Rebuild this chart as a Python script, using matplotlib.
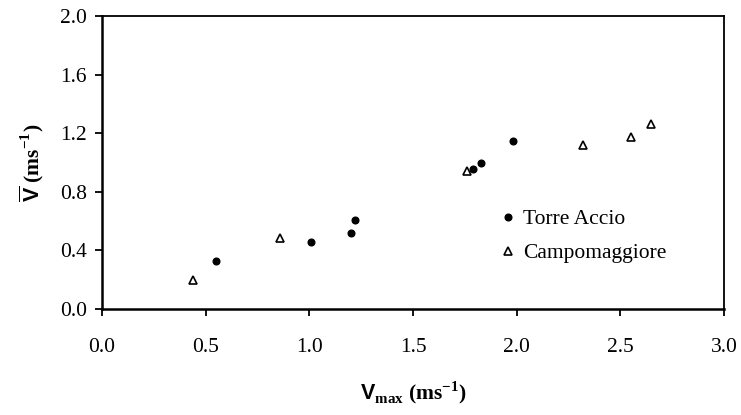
import numpy as np
import matplotlib
matplotlib.use("Agg")
import matplotlib.pyplot as plt

plt.rcParams['font.family'] = ['Liberation Serif', 'DejaVu Serif']
plt.rcParams['mathtext.fontset'] = 'custom'
plt.rcParams['mathtext.rm'] = 'Liberation Serif:bold'
plt.rcParams['mathtext.bf'] = 'Liberation Serif:bold'
plt.rcParams['mathtext.sf'] = 'Liberation Sans:bold'

# Torre Accio (filled dots)
torre_vmax = [0.55, 1.01, 1.20, 1.22, 1.79, 1.83, 1.98]
torre_vmean = [0.33, 0.455, 0.52, 0.605, 0.955, 1.00, 1.145]

# Campomaggiore (open triangles)
campo_vmax = [0.44, 0.86, 1.76, 2.32, 2.55, 2.65]
campo_vmean = [0.20, 0.485, 0.94, 1.12, 1.175, 1.26]

x_ticks = [0.0, 0.5, 1.0, 1.5, 2.0, 2.5, 3.0]
y_ticks = [0.0, 0.4, 0.8, 1.2, 1.6, 2.0]

fig = plt.figure(figsize=(7.41, 4.15), dpi=100)
ax = fig.add_axes([0.1377, 0.2554, 0.977 - 0.1377, 0.9614 - 0.2554])

ax.plot(torre_vmax, torre_vmean, 'o', color='black', markersize=4.8,
        linestyle='none', label='Torre Accio')
ax.plot(campo_vmax, campo_vmean, '^', markerfacecolor='white',
        markeredgecolor='black', markeredgewidth=1.2, markersize=5.5,
        linestyle='none', label='Campomaggiore')

ax.set_xlim(0, 3.0)
ax.set_ylim(0, 2.0)
ax.set_xticks(x_ticks)
ax.set_yticks(y_ticks)
ax.set_xticklabels(['%.1f' % v for v in x_ticks])
ax.set_yticklabels(['%.1f' % v for v in y_ticks])

for side in ['left', 'bottom']:
    ax.spines[side].set_linewidth(1.8)
for side in ['top', 'right']:
    ax.spines[side].set_linewidth(1.3)

ax.tick_params(axis='x', direction='out', length=5, width=1.3, pad=16,
               labelsize=15.5, top=False)
ax.tick_params(axis='y', direction='out', length=5, width=1.3, pad=6,
               labelsize=15.5, right=False)

ax.set_xlabel(r'$\mathsf{V}_{\mathbf{max}}$ (ms$^{-1}$)', fontsize=15.5,
              fontweight='bold', labelpad=16)
ax.set_ylabel(r'$\overline{\mathsf{V}}$ (ms$^{-1}$)', fontsize=15.5,
              fontweight='bold', labelpad=10)

ax.legend(loc='upper left', bbox_to_anchor=(0.622, 0.37), frameon=False,
          fontsize=15.5, handletextpad=0.2, labelspacing=0.65,
          handlelength=1.0, borderaxespad=0)

fig.savefig('out.png', dpi=100)
